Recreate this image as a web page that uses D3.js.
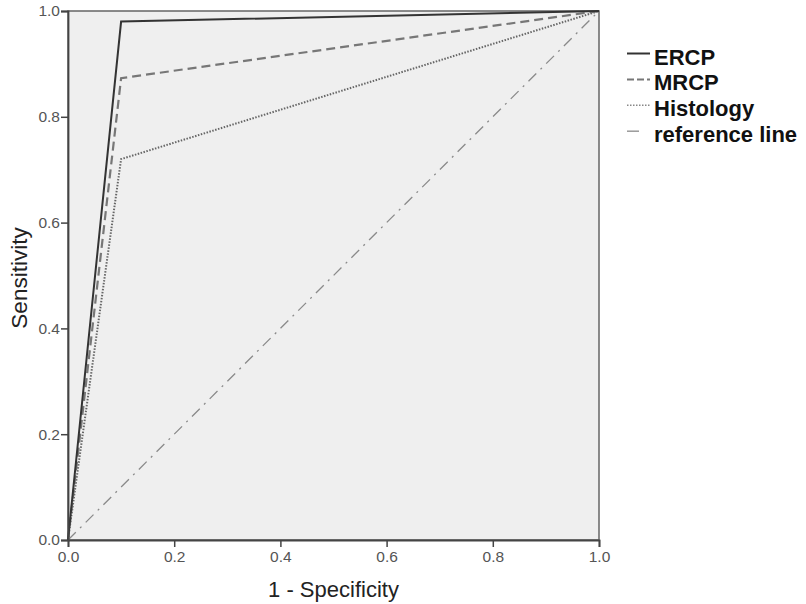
<!DOCTYPE html>
<html>
<head>
<meta charset="utf-8">
<script src="https://cdn.jsdelivr.net/npm/d3@7/dist/d3.min.js"></script>
<style>
  body { margin: 0; background: #fff; }
  text { font-family: "Liberation Sans", Arial, sans-serif; }
</style>
</head>
<body>
<div id="chart"></div>
<script>
// ROC curves: 1 - specificity vs sensitivity
var seriesNames = ["ERCP", "MRCP", "Histology"];
var ercpFpr = [0, 0.1, 1], ercpTpr = [0, 0.98, 1];
var mrcpFpr = [0, 0.1, 1], mrcpTpr = [0, 0.873, 1];
var histFpr = [0, 0.1, 1], histTpr = [0, 0.72, 1];
var refFpr = [0, 1], refTpr = [0, 1];
var tickValues = [0, 0.2, 0.4, 0.6, 0.8, 1.0];
var legendLabels = ["ERCP", "MRCP", "Histology", "reference line"];

var width = 806, height = 604;
var margin = {t: 11, r: 207, b: 64, l: 68};

var svg = d3.select("#chart").append("svg")
            .attr("width", width)
            .attr("height", height);

var scaleX = d3.scaleLinear().domain([0, 1]).range([margin.l, width - margin.r]);
var scaleY = d3.scaleLinear().domain([0, 1]).range([height - margin.b, margin.t]);

// plot background
svg.append("rect")
   .attr("x", scaleX(0)).attr("y", scaleY(1))
   .attr("width", scaleX(1) - scaleX(0))
   .attr("height", scaleY(0) - scaleY(1))
   .attr("fill", "#efefef")
   .attr("stroke", "#666")
   .attr("stroke-width", 1.5);

function pts(xs, ys) {
  return xs.map(function(x, i) { return [x, ys[i]]; });
}
var line = d3.line()
             .x(function(d) { return scaleX(d[0]); })
             .y(function(d) { return scaleY(d[1]); });

var curves = [
  {d: pts(refFpr, refTpr), color: "#8a8a8a", w: 1.3, dash: "11,6,2,6"},
  {d: pts(histFpr, histTpr), color: "#666", w: 2, dash: "1.5,1.5"},
  {d: pts(mrcpFpr, mrcpTpr), color: "#777", w: 2.2, dash: "9,5"},
  {d: pts(ercpFpr, ercpTpr), color: "#333", w: 2, dash: null}
];

svg.append("g").selectAll("path")
   .data(curves)
   .enter()
   .append("path")
   .attr("d", function(c) { return line(c.d); })
   .attr("fill", "none")
   .attr("stroke", function(c) { return c.color; })
   .attr("stroke-width", function(c) { return c.w; })
   .attr("stroke-dasharray", function(c) { return c.dash; });

// axes
var axisX = d3.axisBottom(scaleX).tickValues(tickValues)
              .tickFormat(d3.format(".1f")).tickSize(7).tickPadding(4);
var axisY = d3.axisLeft(scaleY).tickValues(tickValues)
              .tickFormat(d3.format(".1f")).tickSize(7).tickPadding(1);

var axisXG = svg.append("g")
                .attr("transform", "translate(0," + scaleY(0) + ")")
                .call(axisX);
var axisYG = svg.append("g")
                .attr("transform", "translate(" + scaleX(0) + ",0)")
                .call(axisY);

[axisXG, axisYG].forEach(function(g) {
  g.select(".domain").attr("stroke", "#444").attr("stroke-width", 1.8);
  g.selectAll(".tick line").attr("stroke", "#444").attr("stroke-width", 1.5);
  g.selectAll(".tick text")
   .attr("fill", "#555")
   .style("font-size", "15.5px")
   .style("font-family", "Liberation Sans, Arial, sans-serif");
});

// axis titles
svg.append("text")
   .attr("x", (scaleX(0) + scaleX(1)) / 2)
   .attr("y", 597)
   .attr("text-anchor", "middle")
   .attr("fill", "#222")
   .style("font-size", "22px")
   .text("1 - Specificity");

svg.append("text")
   .attr("transform", "translate(27,278) rotate(-90)")
   .attr("text-anchor", "middle")
   .attr("fill", "#222")
   .style("font-size", "22.5px")
   .text("Sensitivity");

// legend
var legendStyles = [
  {color: "#333", w: 2, dash: null},
  {color: "#777", w: 2, dash: "7,3"},
  {color: "#888", w: 1.5, dash: "1.5,1.5"},
  {color: "#999", w: 1.5, dash: "12,12"}
];
var legend = svg.append("g").attr("transform", "translate(627,64.5)");
var item = legend.selectAll("g")
                 .data(legendLabels)
                 .enter()
                 .append("g")
                 .attr("transform", function(d, i) { return "translate(0," + (i * 25.9) + ")"; });
item.append("line")
    .attr("x1", 0).attr("x2", 23)
    .attr("y1", -11).attr("y2", -11)
    .attr("stroke", function(d, i) { return legendStyles[i].color; })
    .attr("stroke-width", function(d, i) { return legendStyles[i].w; })
    .attr("stroke-dasharray", function(d, i) { return legendStyles[i].dash; });
item.append("text")
    .attr("x", 27)
    .attr("y", 0)
    .attr("fill", "#111")
    .style("font-size", "22px")
    .style("font-weight", "bold")
    .text(function(d) { return d; });
</script>
</body>
</html>
